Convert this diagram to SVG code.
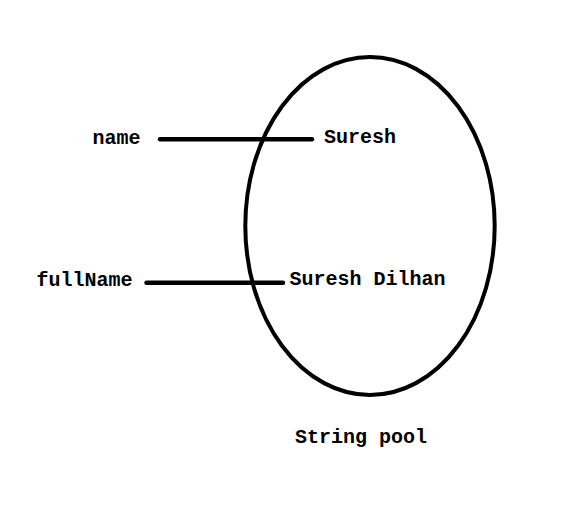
<svg xmlns="http://www.w3.org/2000/svg" width="581" height="524" viewBox="0 0 581 524">
<style>
.t{font-family:"Liberation Mono","Courier New",monospace;font-weight:bold;font-size:20px;fill:#000}
.c{stroke:#000;stroke-width:4.5;stroke-linecap:round;fill:none}
</style>
<rect width="581" height="524" fill="#fff"/>
<g id="pool">
<ellipse cx="370" cy="226" rx="124.7" ry="169" fill="none" stroke="#000" stroke-width="4"/>
<text class="t" x="295" y="443">String pool</text>
</g>
<g id="connectors">
<line class="c" x1="160" y1="139.3" x2="312" y2="139.3"/>
<line class="c" x1="146.5" y1="282.7" x2="283" y2="282.7"/>
</g>
<g id="name"><text class="t" x="92.5" y="144">name</text></g>
<g id="fullName"><text class="t" x="36.5" y="286">fullName</text></g>
<g id="suresh"><text class="t" x="324" y="143">Suresh</text></g>
<g id="sureshDilhan"><text class="t" x="289.5" y="285">Suresh Dilhan</text></g>
</svg>
